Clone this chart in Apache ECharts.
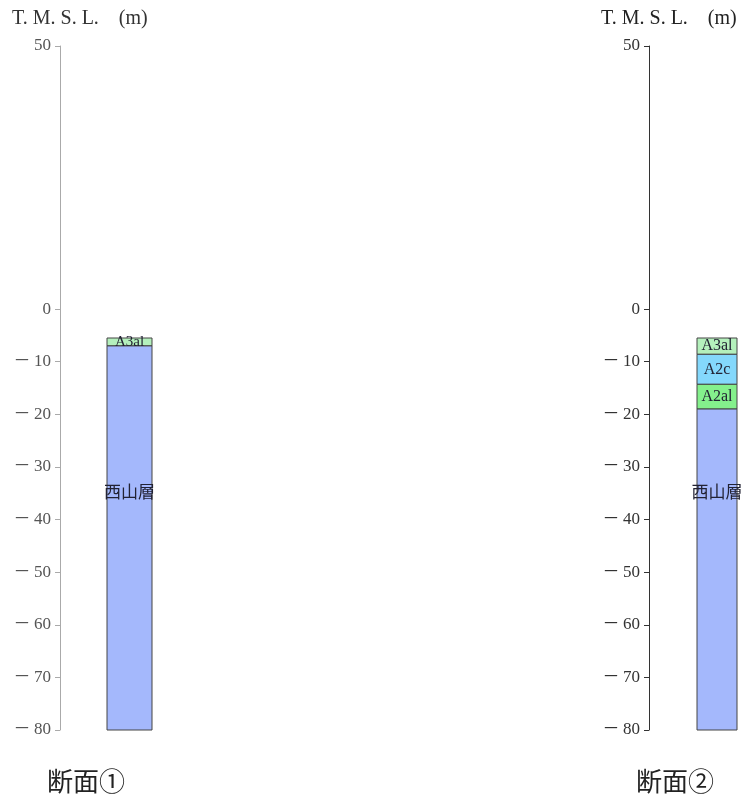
<!DOCTYPE html>
<html>
<head>
<meta charset="utf-8">
<script src="https://cdn.jsdelivr.net/npm/echarts@6/dist/echarts.min.js"></script>
<style>html,body{margin:0;padding:0;background:#fff;}#c{width:746px;height:803px;}</style>
</head>
<body>
<div id="c"></div>
<script>
// ---- data ----
const tickValues = [50, 0, -10, -20, -30, -40, -50, -60, -70, -80];
const sectionNames = ['断面①', '断面②'];
const yTitle = 'T. M. S. L.    (m)';

const layerNames1 = ['A3al', '西山層'];
const layerTops1 = [-5.5, -7.0];
const layerBottoms1 = [-7.0, -80];
const labelDepths1 = [-6.25, -35];

const layerNames2 = ['A3al', 'A2c', 'A2al', '西山層'];
const layerTops2 = [-5.5, -8.6, -14.3, -19.0];
const layerBottoms2 = [-8.6, -14.3, -19.0, -80];
const labelDepths2 = [-7.05, -11.45, -16.65, -35];

// ---- layout / styles ----
const columnX = [0.695, 0.7556];   // column centre on hidden 0..1 x axis
const columnW = [45, 40];
const layerColors = {
  'A3al': '#b4f0bc',
  'A2c': '#84d8fc',
  'A2al': '#84f08c',
  '西山層': '#a4b8fc'
};
const serif = '"Liberation Serif", "Noto Sans CJK JP", serif';

function buildData(names, tops, bottoms, labels) {
  return names.map((n, i) => [tops[i], bottoms[i], labels[i], n]);
}

function columnSeries(idx, data, fontSizes) {
  const cx = columnX[idx], barW = columnW[idx];
  return {
    type: 'custom',
    xAxisIndex: idx,
    yAxisIndex: idx,
    data: data,
    encode: { y: [0, 1] },
    renderItem: function (params, api) {
      const top = api.coord([cx, api.value(0)]);
      const bot = api.coord([cx, api.value(1)]);
      const lab = api.coord([cx, api.value(2)]);
      const name = data[params.dataIndex][3];
      const isBase = name === '西山層';
      return {
        type: 'group',
        children: [{
          type: 'rect',
          shape: { x: top[0] - barW / 2, y: top[1], width: barW, height: bot[1] - top[1] },
          style: { fill: layerColors[name], stroke: '#444', lineWidth: 1 }
        }, {
          type: 'text',
          x: lab[0], y: lab[1],
          style: {
            text: name,
            align: 'center', verticalAlign: 'middle',
            fill: '#223',
            font: (isBase ? fontSizes[1] : fontSizes[0]) + 'px ' + serif
          },
          z2: 10
        }]
      };
    }
  };
}

function yAxis(idx, lineColor, labelColor) {
  return {
    type: 'value', gridIndex: idx,
    min: -80, max: 50, interval: 10,
    splitLine: { show: false },
    axisLine: { show: true, lineStyle: { color: lineColor, width: 1 } },
    axisTick: { show: true, length: 5, customValues: tickValues, lineStyle: { color: lineColor } },
    axisLabel: {
      customValues: tickValues,
      margin: 9,
      color: labelColor,
      fontSize: 17,
      fontFamily: serif,
      formatter: v => (v < 0 ? '－\u2009' + Math.abs(v) : String(v))
    }
  };
}

const chart = echarts.init(document.getElementById('c'));
chart.setOption({
  animation: false,
  backgroundColor: '#fff',
  grid: [
    { left: 60, top: 46, bottom: 73, width: 100 },
    { left: 649, top: 46, bottom: 73, width: 90 }
  ],
  xAxis: [
    { type: 'value', gridIndex: 0, min: 0, max: 1, show: false },
    { type: 'value', gridIndex: 1, min: 0, max: 1, show: false }
  ],
  yAxis: [yAxis(0, '#aaa', '#555'), yAxis(1, '#333', '#333')],
  title: [
    { text: yTitle, left: 12, top: 9, padding: 0, textStyle: { fontSize: 20, fontWeight: 'normal', color: '#333', fontFamily: serif } },
    { text: yTitle, left: 601, top: 9, padding: 0, textStyle: { fontSize: 20, fontWeight: 'normal', color: '#222', fontFamily: serif } }
  ],
  graphic: [
    { type: 'text', left: 47, top: 768, style: { text: sectionNames[0], font: '26px "Noto Sans CJK JP"', fill: '#222' } },
    { type: 'text', left: 636, top: 768, style: { text: sectionNames[1], font: '26px "Noto Sans CJK JP"', fill: '#222' } }
  ],
  series: [
    columnSeries(0, buildData(layerNames1, layerTops1, layerBottoms1, labelDepths1), [15, 17]),
    columnSeries(1, buildData(layerNames2, layerTops2, layerBottoms2, labelDepths2), [16, 17])
  ]
});
</script>
</body>
</html>
